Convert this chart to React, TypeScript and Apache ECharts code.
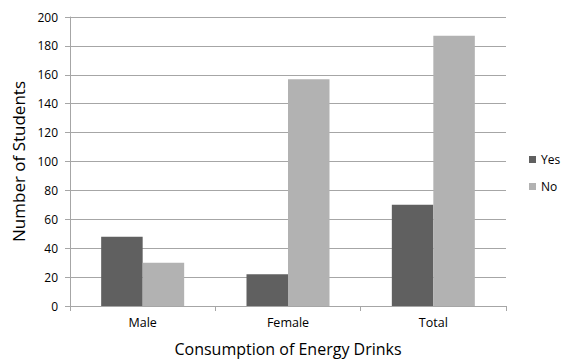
import React, { useEffect, useRef } from "react";
import * as echarts from "echarts";

const categories = ["Male", "Female", "Total"];
const yesValues = [48, 22, 70];
const noValues = [30, 157, 187];
const seriesNames = ["Yes", "No"];

const FONT = "Open Sans";

export default function App() {
  const ref = useRef<HTMLDivElement>(null);
  useEffect(() => {
    if (!ref.current) return;
    const chart = echarts.init(ref.current, undefined, { renderer: "svg" });
    chart.setOption({
      animation: false,
      backgroundColor: "#ffffff",
      textStyle: { fontFamily: FONT },
      grid: { left: 70, right: 56, top: 17, bottom: 55 },
      legend: {
        orient: "vertical",
        left: 529,
        top: 152,
        padding: 0,
        itemWidth: 7,
        itemHeight: 7,
        itemGap: 12,
        icon: "rect",
        textStyle: { fontFamily: FONT, fontSize: 12, color: "#000", lineHeight: 15 },
        data: seriesNames,
      },
      xAxis: {
        type: "category",
        data: categories,
        name: "Consumption of Energy Drinks",
        nameLocation: "middle",
        nameGap: 35,
        nameTextStyle: { fontFamily: FONT, fontSize: 16, color: "#000" },
        axisLine: { lineStyle: { color: "#a6a6a6", width: 1 } },
        axisTick: { show: true, length: 5, lineStyle: { color: "#a6a6a6" } },
        axisLabel: { fontFamily: FONT, fontSize: 12.5, color: "#000", margin: 10 },
      },
      yAxis: {
        type: "value",
        min: 0,
        max: 200,
        interval: 20,
        name: "Number of Students",
        nameLocation: "middle",
        nameGap: 43,
        nameTextStyle: { fontFamily: FONT, fontSize: 17, color: "#000" },
        axisLine: { show: true, lineStyle: { color: "#a6a6a6", width: 1 } },
        axisTick: { show: true, length: 5, lineStyle: { color: "#a6a6a6" } },
        axisLabel: { fontFamily: FONT, fontSize: 12, color: "#000", margin: 12 },
        splitLine: { lineStyle: { color: "#a6a6a6", width: 1 } },
      },
      series: [
        {
          name: seriesNames[0],
          type: "bar",
          data: yesValues,
          barWidth: 41.5,
          barGap: "0%",
          itemStyle: { color: "#606060" },
        },
        {
          name: seriesNames[1],
          type: "bar",
          data: noValues,
          barWidth: 41.5,
          barGap: "0%",
          itemStyle: { color: "#b2b2b2" },
        },
      ],
    });
    return () => chart.dispose();
  }, []);
  return <div ref={ref} style={{ width: 562, height: 362, position: "absolute", left: 0, top: 0 }} />;
}
